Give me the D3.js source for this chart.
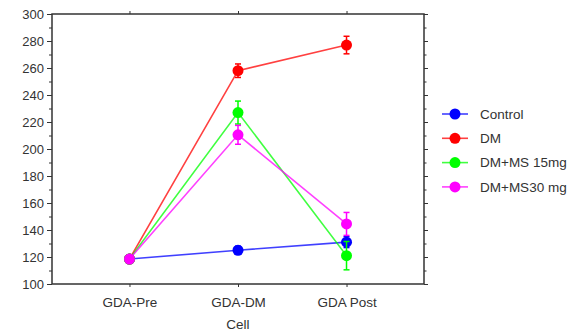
<!DOCTYPE html>
<html>
<head>
<meta charset="utf-8">
<script src="https://cdn.jsdelivr.net/npm/d3@7"></script>
<style>
	body { margin: 0; background: #fff; }
	text { font-family: 'Liberation Sans', Arial, sans-serif; fill: #333; }
</style>
</head>
<body>
<svg id="chart" width="574" height="331"></svg>
<script>
const categories = ['GDA-Pre', 'GDA-DM', 'GDA Post'];
const seriesNames = ['Control', 'DM', 'DM+MS 15mg', 'DM+MS30 mg'];
const controlValues = [118.5, 125, 131];
const controlErrors = [1.5, 3, 4];
const dmValues = [118.5, 258, 277];
const dmErrors = [1.5, 5, 6.5];
const ms15Values = [118.5, 227, 121];
const ms15Errors = [1.5, 8.5, 10.5];
const ms30Values = [118.5, 210.5, 144.5];
const ms30Errors = [1.5, 7, 8.5];
const yTicks = [100, 120, 140, 160, 180, 200, 220, 240, 260, 280, 300];

const colors = ['#0000ff', '#ff0000', '#00ff00', '#ff00ff'];
const series = [
	{ name: seriesNames[0], values: controlValues, errors: controlErrors },
	{ name: seriesNames[1], values: dmValues, errors: dmErrors },
	{ name: seriesNames[2], values: ms15Values, errors: ms15Errors },
	{ name: seriesNames[3], values: ms30Values, errors: ms30Errors }
];

const plotLeft = 52, plotRight = 424, plotTop = 14, plotBottom = 284;
const svg = d3.select('#chart');

const x = d3.scalePoint().domain(categories).range([plotLeft, plotRight]).padding(0.714);
const y = d3.scaleLinear().domain([100, 300]).range([plotBottom, plotTop]);

// frame
svg.append('rect')
	.attr('x', plotLeft).attr('y', plotTop)
	.attr('width', plotRight - plotLeft).attr('height', plotBottom - plotTop)
	.attr('fill', 'none').attr('stroke', '#333').attr('stroke-width', 1.5);

const minor = d3.range(110, 300, 20);

// left axis
const yAxis = svg.append('g').attr('transform', `translate(${plotLeft},0)`)
	.call(d3.axisLeft(y).tickValues(yTicks).tickSize(5).tickPadding(3));
yAxis.select('.domain').remove();
yAxis.selectAll('text').style('font-size', '13px').attr('fill', '#333');
yAxis.selectAll('line').attr('stroke', '#333');
svg.append('g').attr('transform', `translate(${plotLeft},0)`)
	.call(d3.axisLeft(y).tickValues(minor).tickSize(3).tickFormat(''))
	.call((g) => g.select('.domain').remove())
	.selectAll('line').attr('stroke', '#333');

// right axis
svg.append('g').attr('transform', `translate(${plotRight},0)`)
	.call(d3.axisRight(y).tickValues(yTicks).tickSize(4).tickFormat(''))
	.call((g) => g.select('.domain').remove())
	.selectAll('line').attr('stroke', '#333');
svg.append('g').attr('transform', `translate(${plotRight},0)`)
	.call(d3.axisRight(y).tickValues(minor).tickSize(2.5).tickFormat(''))
	.call((g) => g.select('.domain').remove())
	.selectAll('line').attr('stroke', '#333');

// bottom axis
const xAxis = svg.append('g').attr('transform', `translate(0,${plotBottom})`)
	.call(d3.axisBottom(x).tickSize(3).tickPadding(10));
xAxis.select('.domain').remove();
xAxis.selectAll('text').style('font-size', '13.5px').attr('fill', '#333');
xAxis.selectAll('line').attr('stroke', '#333');

// top axis
svg.append('g').attr('transform', `translate(0,${plotTop})`)
	.call(d3.axisTop(x).tickSize(3).tickFormat(''))
	.call((g) => g.select('.domain').remove())
	.selectAll('line').attr('stroke', '#333');

svg.append('text')
	.attr('x', x('GDA-DM')).attr('y', 329)
	.attr('text-anchor', 'middle')
	.style('font-size', '13.5px')
	.text('Cell');

const line = d3.line().x((d, i) => x(categories[i])).y((d) => y(d));

series.forEach((s, k) => {
	const g = svg.append('g');
	g.append('path')
		.attr('d', line(s.values))
		.attr('fill', 'none')
		.attr('stroke', colors[k])
		.attr('stroke-opacity', 0.75)
		.attr('stroke-width', 1.6);
	s.values.forEach((v, i) => {
		const cx = x(categories[i]);
		const e = s.errors[i];
		g.append('line')
			.attr('x1', cx).attr('x2', cx)
			.attr('y1', y(v - e)).attr('y2', y(v + e))
			.attr('stroke', colors[k]).attr('stroke-width', 1.5);
		[v - e, v + e].forEach((ev) => {
			g.append('line')
				.attr('x1', cx - 3).attr('x2', cx + 3)
				.attr('y1', y(ev)).attr('y2', y(ev))
				.attr('stroke', colors[k]).attr('stroke-width', 1.5);
		});
		g.append('circle')
			.attr('cx', cx).attr('cy', y(v)).attr('r', 5.5)
			.attr('fill', colors[k]);
	});
});

// legend
const legend = svg.append('g');
series.forEach((s, k) => {
	const ly = 114 + k * 24.3;
	legend.append('line')
		.attr('x1', 442).attr('x2', 468)
		.attr('y1', ly).attr('y2', ly)
		.attr('stroke', colors[k]).attr('stroke-opacity', 0.75).attr('stroke-width', 1.6);
	legend.append('circle')
		.attr('cx', 455).attr('cy', ly).attr('r', 5.5).attr('fill', colors[k]);
	legend.append('text')
		.attr('x', 480).attr('y', ly)
		.attr('dy', '0.35em')
		.style('font-size', '13.5px')
		.text(s.name);
});
</script>
</body>
</html>
